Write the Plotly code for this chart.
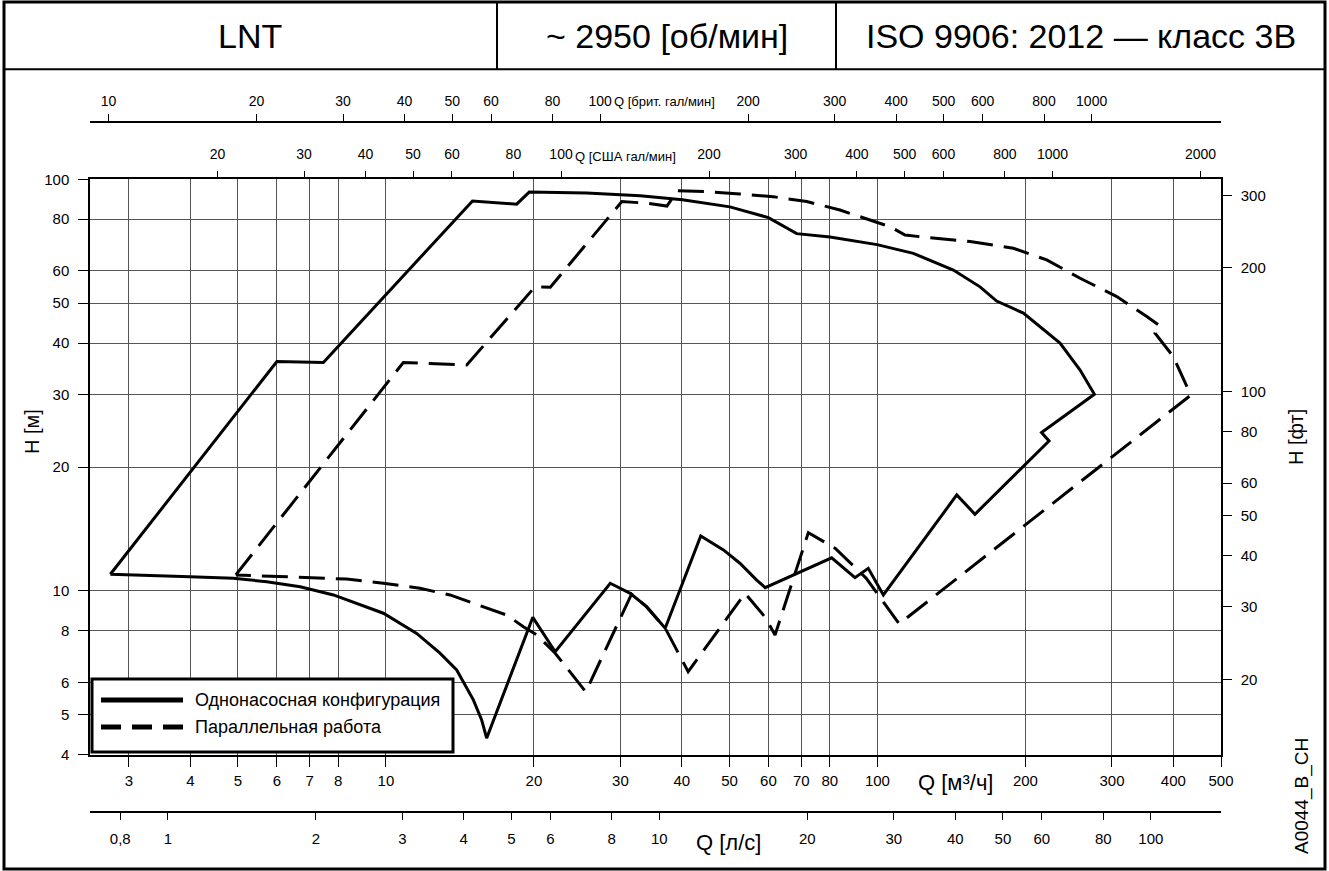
import math
import plotly.graph_objects as go

# ---------------- data ----------------
# single pump envelope: Q [m3/h], H [m]
single_q = [2.75, 6.0, 7.46, 15.0, 18.45, 19.57, 25.6, 32.9, 40.1, 50.1, 60.0, 68.5, 80.1, 99.8,
            118.3, 142.7, 161.7, 174.8, 198.1, 235.2, 258.4, 276.3, 215.7, 223.4, 157.9, 145.0,
            102.8, 95.8, 90.0, 80.7, 59.1, 56.8, 52.5, 48.6, 43.7, 37.0, 33.9, 31.4, 28.6, 22.1,
            19.9, 16.03, 15.66, 15.06, 13.93, 12.88, 11.55, 10.68, 9.88, 7.82, 6.69, 5.72, 4.89,
            3.99, 2.75]
single_h = [10.98, 36.1, 35.9, 88.6, 87.0, 93.1, 92.6, 91.2, 89.2, 85.7, 80.7, 73.8, 72.4, 69.4,
            66.1, 60.2, 54.8, 50.6, 47.3, 40.0, 34.4, 30.05, 24.27, 23.14, 15.36, 17.11,
            9.78, 11.35, 10.77, 12.04, 10.19, 10.63, 11.68, 12.58, 13.6, 8.12, 9.16, 9.87, 10.44, 7.12,
            8.63, 4.39, 4.86, 5.44, 6.43, 7.06, 7.89, 8.35, 8.83, 9.78, 10.24, 10.53, 10.74,
            10.83, 10.98]

# parallel operation envelope: Q [m3/h], H [m]
parallel_q = [4.95, 10.85, 14.6, 20.1, 21.6, 30.2, 33.9, 37.3, 39.2, 45.0, 52.5, 61.4, 71.8, 83.9,
              106.1, 113.8, 127.9, 154.3, 189.0, 221.0, 258.4, 306.9, 353.2, 375.8, 367.1, 399.9,
              434.0, 110.7, 94.8, 82.0, 72.35, 61.9, 59.1, 53.8, 41.2, 39.05, 37.0, 33.9, 31.6,
              25.5, 22.1, 20.27, 19.04, 17.61, 15.78, 13.5, 11.73, 9.88, 8.32, 6.0, 4.95]
parallel_h = [10.94, 35.9, 35.4, 54.8, 54.7, 88.3, 87.5, 86.1, 93.8, 93.3, 92.1, 90.7, 88.3, 84.2,
              76.7, 73.2, 72.1, 70.6, 68.0, 63.7, 57.5, 51.9, 46.4, 44.0, 42.3, 37.1,
              29.9, 8.32, 10.75, 12.70, 13.86, 7.82, 8.63, 9.87, 6.37, 7.19, 8.12, 9.16, 9.82,
              5.69, 7.06, 7.82, 8.19, 8.74, 9.16, 9.78, 10.15, 10.44, 10.69, 10.83, 10.94]

# tick values / labels
q_m3h_ticks = [3, 4, 5, 6, 7, 8, 10, 20, 30, 40, 50, 60, 70, 80, 100, 200, 300, 400, 500]
q_ls_ticks = [0.8, 1, 2, 3, 4, 5, 6, 8, 10, 20, 30, 40, 50, 60, 80, 100]
q_ls_labels = ["0,8", "1", "2", "3", "4", "5", "6", "8", "10", "20", "30", "40", "50", "60", "80", "100"]
q_us_ticks = [20, 30, 40, 50, 60, 80, 100, 200, 300, 400, 500, 600, 800, 1000, 2000]
q_uk_ticks = [10, 20, 30, 40, 50, 60, 80, 100, 200, 300, 400, 500, 600, 800, 1000]
h_m_ticks = [4, 5, 6, 8, 10, 20, 30, 40, 50, 60, 80, 100]
h_ft_ticks = [20, 30, 40, 50, 60, 80, 100, 200, 300]

header_texts = ["LNT", "~ 2950 [об/мин]", "ISO 9906: 2012 — класс 3B"]
legend_labels = ["Однонасосная конфигурация", "Параллельная работа"]

# unit conversions
Q_MIN, Q_MAX = 2.5, 500.0
H_MIN, H_MAX = 4.0, 100.0
M3H_TO_LS = 1 / 3.6
M3H_TO_USGPM = 4.402868
M3H_TO_UKGPM = 3.666154
M_TO_FT = 3.28084

# ---------------- layout geometry ----------------
W, HGT = 1329, 871
ML, MR, MT, MB = 90, 108, 60, 20
PW = W - ML - MR
PH = HGT - MT - MB
FONT = "Liberation Sans, Arial, Helvetica, sans-serif"
GRID = "#555555"


def xp(px):
    return (px - ML) / PW


def yp(py):
    return (HGT - MB - py) / PH


log = math.log10
Y_DOM = [yp(754.8), yp(179.3)]

fig = go.Figure()
fig.add_trace(go.Scatter(x=single_q, y=single_h, mode="lines", name=legend_labels[0],
                         line=dict(color="black", width=3), showlegend=False, hoverinfo="skip"))
fig.add_trace(go.Scatter(x=parallel_q, y=parallel_h, mode="lines", name=legend_labels[1],
                         line=dict(color="black", width=3, dash="26px,11px"),
                         showlegend=False, hoverinfo="skip"))
# empty carriers so that every secondary axis gets its own subplot
for xa, ya in [("x2", "y"), ("x3", "y"), ("x4", "y"), ("x", "y2")]:
    fig.add_trace(go.Scatter(x=[None], y=[None], xaxis=xa, yaxis=ya, mode="lines",
                             showlegend=False, hoverinfo="skip"))

base = dict(type="log", showline=True, linecolor="black", linewidth=1.5, ticks="outside",
            tickcolor="black", tickwidth=1, tickmode="array", zeroline=False,
            tickfont=dict(size=15, color="black", family=FONT), automargin=False)

fig.update_layout(
    template="none",
    width=W, height=HGT,
    margin=dict(l=ML, r=MR, t=MT, b=MB, autoexpand=False),
    paper_bgcolor="white", plot_bgcolor="white",
    font=dict(family=FONT, color="black"),
    showlegend=False,
    xaxis=dict(base, range=[log(Q_MIN), log(Q_MAX)], tickvals=q_m3h_ticks,
               ticktext=[str(v) for v in q_m3h_ticks], ticklen=10, ticklabelstandoff=1,
               showgrid=True, gridcolor=GRID, gridwidth=1, domain=[0, 1], anchor="y"),
    xaxis2=dict(base, range=[log(Q_MIN * M3H_TO_LS), log(Q_MAX * M3H_TO_LS)],
                tickvals=q_ls_ticks, ticktext=q_ls_labels, ticklen=8, ticklabelstandoff=6,
                showgrid=False, overlaying="x", anchor="free", position=yp(811.7), side="bottom"),
    xaxis3=dict(base, range=[log(Q_MIN * M3H_TO_USGPM), log(Q_MAX * M3H_TO_USGPM)],
                tickvals=q_us_ticks, ticktext=[str(v) for v in q_us_ticks], ticklen=7,
                ticklabelstandoff=6, tickfont=dict(size=14, color="black", family=FONT),
                showgrid=False, overlaying="x", anchor="y", side="top"),
    xaxis4=dict(base, range=[log(Q_MIN * M3H_TO_UKGPM), log(Q_MAX * M3H_TO_UKGPM)],
                tickvals=q_uk_ticks, ticktext=[str(v) for v in q_uk_ticks], ticklen=7,
                ticklabelstandoff=2, tickfont=dict(size=14, color="black", family=FONT),
                showgrid=False, overlaying="x", anchor="free", position=yp(121.7), side="top"),
    yaxis=dict(base, range=[log(H_MIN), log(H_MAX)], tickvals=h_m_ticks,
               ticktext=[str(v) for v in h_m_ticks], ticklen=10, ticklabelstandoff=6,
               showgrid=True, gridcolor=GRID, gridwidth=1, domain=Y_DOM, anchor="x"),
    yaxis2=dict(base, range=[log(H_MIN * M_TO_FT), log(H_MAX * M_TO_FT)], tickvals=h_ft_ticks,
                ticktext=[str(v) for v in h_ft_ticks], ticklen=9, ticklabelstandoff=6,
                showgrid=False, overlaying="y", anchor="x", side="right"),
)


def ann(text, px, py, size, xanchor="center", yanchor="middle", angle=0):
    return dict(text=text, x=xp(px), y=yp(py), xref="paper", yref="paper", showarrow=False,
                font=dict(size=size, color="black", family=FONT), xanchor=xanchor,
                yanchor=yanchor, textangle=angle)


annotations = [
    ann(header_texts[0], 250.5, 36, 34),
    ann(header_texts[1], 666.5, 36, 34),
    ann(header_texts[2], 1080.5, 36, 34),
    ann("Q [брит. гал/мин]", 612, 101, 13, xanchor="left"),
    ann("Q [США гал/мин]", 573, 156, 13, xanchor="left"),
    ann("Q [м³/ч]", 955, 782, 22),
    ann("Q [л/с]", 728, 842, 22),
    ann("H [м]", 32, 432, 20, angle=-90),
    ann("H [фт]", 1296, 437, 20, angle=-90),
    ann("A0044_B_CH", 1302, 796, 19, angle=-90),
    ann(legend_labels[0], 193, 700, 18, xanchor="left"),
    ann(legend_labels[1], 193, 727, 18, xanchor="left"),
]

shapes = [
    # outer frame and header table
    dict(type="rect", xref="paper", yref="paper", x0=xp(4), x1=xp(1325), y0=yp(869), y1=yp(2),
         line=dict(color="black", width=3), layer="above"),
    dict(type="line", xref="paper", yref="paper", x0=xp(4), x1=xp(1325), y0=yp(69.3), y1=yp(69.3),
         line=dict(color="black", width=2)),
    dict(type="line", xref="paper", yref="paper", x0=xp(497), x1=xp(497), y0=yp(2), y1=yp(69.3),
         line=dict(color="black", width=2)),
    dict(type="line", xref="paper", yref="paper", x0=xp(836), x1=xp(836), y0=yp(2), y1=yp(69.3),
         line=dict(color="black", width=2)),
    # legend box and samples
    dict(type="rect", xref="paper", yref="paper", x0=xp(92), x1=xp(453), y0=yp(752), y1=yp(679),
         line=dict(color="black", width=3), fillcolor="white", layer="above"),
    dict(type="line", xref="paper", yref="paper", x0=xp(101), x1=xp(183), y0=yp(700), y1=yp(700),
         line=dict(color="black", width=5), layer="above"),
    dict(type="line", xref="paper", yref="paper", x0=xp(101), x1=xp(183), y0=yp(727), y1=yp(727),
         line=dict(color="black", width=5, dash="20px,11px"), layer="above"),
]

fig.update_layout(annotations=annotations, shapes=shapes)
fig.write_html("out.html", config={"displayModeBar": False},
               post_script="document.body.style.margin='0';document.body.style.overflow='hidden';")
